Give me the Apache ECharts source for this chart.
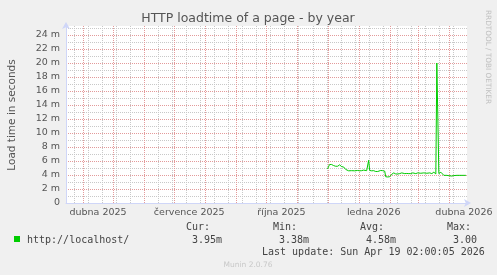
<!DOCTYPE html>
<html>
<head>
<meta charset="utf-8">
<script src="https://cdn.jsdelivr.net/npm/echarts@6/dist/echarts.min.js"></script>
<style>
html,body{margin:0;padding:0;background:#f0f0f0;}
#c{width:497px;height:275px;}
</style>
</head>
<body>
<div id="c"></div>
<script>
// ---- data (load time in milliseconds) ----
const dates = [
 '2025-12-01','2025-12-02','2025-12-03','2025-12-04','2025-12-05','2025-12-06','2025-12-07','2025-12-08',
 '2025-12-09','2025-12-10','2025-12-11','2025-12-12','2025-12-13','2025-12-14','2025-12-15','2025-12-16',
 '2025-12-17','2025-12-18','2025-12-19','2025-12-20','2025-12-22','2025-12-25','2025-12-28','2025-12-31',
 '2026-01-02','2026-01-04','2026-01-06','2026-01-07','2026-01-09','2026-01-10','2026-01-11','2026-01-12',
 '2026-01-14','2026-01-16','2026-01-18','2026-01-20','2026-01-21','2026-01-23','2026-01-25','2026-01-27',
 '2026-01-28','2026-01-30','2026-02-01','2026-02-02','2026-02-03','2026-02-04','2026-02-05','2026-02-06',
 '2026-02-07','2026-02-08','2026-02-09','2026-02-11','2026-02-13','2026-02-14','2026-02-16','2026-02-18',
 '2026-02-20','2026-02-22','2026-02-24','2026-02-25','2026-02-27','2026-03-01','2026-03-02','2026-03-04',
 '2026-03-05','2026-03-07','2026-03-08','2026-03-10','2026-03-11','2026-03-13','2026-03-15','2026-03-17',
 '2026-03-18','2026-03-19','2026-03-20','2026-03-21','2026-03-22','2026-03-23','2026-03-24','2026-03-25',
 '2026-03-27','2026-03-30','2026-04-01','2026-04-02','2026-04-04','2026-04-06','2026-04-09','2026-04-12',
 '2026-04-15','2026-04-16','2026-04-17','2026-04-18'
];
const loadMs = [
 4.86,5.2,5.5,5.55,5.5,5.45,5.35,5.3,
 5.25,5.3,5.25,5.4,5.45,5.35,5.2,5.1,
 5.15,5.0,4.8,4.62,4.6,4.62,4.6,4.65,
 4.6,4.62,4.7,4.6,4.62,4.7,6.1,4.65,
 4.6,4.62,4.5,4.5,4.6,4.65,4.62,4.55,
 3.75,3.72,3.75,3.8,4.1,4.1,4.3,4.1,
 4.15,4.3,4.15,4.2,4.3,4.2,4.2,4.22,
 4.2,4.2,4.3,4.15,4.2,4.3,4.15,4.25,
 4.1,4.3,4.1,4.25,4.1,4.3,4.2,4.4,
 4.2,4.15,20.0,20.0,4.2,4.25,4.4,4.2,
 3.95,3.95,3.9,3.85,3.85,3.92,3.95,3.95,
 3.95,4.2,3.95,3.95
];
const seriesName = 'http://localhost/';
const xStart = '2025-03-15T02:00';
const xEnd = '2026-04-19T02:00';
const xLabelDates = ['2025-04-16','2025-07-16','2025-10-16','2026-01-16','2026-04-16'];
const xLabelTexts = ['dubna 2025','července 2025','října 2025','ledna 2026','dubna 2026'];
const monthStarts = ['2025-04-01','2025-05-01','2025-06-01','2025-07-01','2025-08-01','2025-09-01','2025-10-01',
 '2025-11-01','2025-12-01','2026-01-01','2026-02-01','2026-03-01','2026-04-01'];
const weekLines = ['2025-03-23','2025-04-06','2025-04-20','2025-05-04','2025-05-18','2025-06-01','2025-06-15',
 '2025-06-29','2025-07-13','2025-07-27','2025-08-10','2025-08-24','2025-09-07','2025-09-21','2025-10-05',
 '2025-10-19','2025-11-02','2025-11-16','2025-11-30','2025-12-14','2025-12-28','2026-01-11','2026-01-25',
 '2026-02-08','2026-02-22','2026-03-08','2026-03-22','2026-04-05'];
const yLabelValues = [0,2,4,6,8,10,12,14,16,18,20,22,24];
const yMajorLines = [2,4,6,8,10,12,14,16,18,20,22,24];
const yMinorLines = [1,3,5,7,9,11,13,15,17,19,21,23,25];
const legendHeads = ['Cur:','Min:','Avg:','Max:'];
const legendValues = ['3.95m','3.38m','4.58m','3.00'];
const lastUpdate = 'Last update: Sun Apr 19 02:00:05 2026';

function t(s){
  const [d, hm] = s.split('T');
  const [y,m,dd] = d.split('-').map(Number);
  let h = 0, mi = 0;
  if (hm) { [h, mi] = hm.split(':').map(Number); }
  return Date.UTC(y, m-1, dd, h, mi);
}
const xMin = t(xStart), xMax = t(xEnd);
const labelTimes = xLabelDates.map(t);
const yMax = 25.29;

const gridCol = '#c8c8c8';
const mgridCol = '#e39a9a';
const axisCol = '#CFD6F8';
const fontCol = '#555';

function vGrid(color){
  return function(params, api){
    const v = api.value(0);
    const p0 = api.coord([v, 0]);
    const p1 = api.coord([v, yMax]);
    const x = Math.round(p0[0]) + 0.5;
    return {type:'line', silent:true,
      shape:{x1:x, y1:p0[1], x2:x, y2:p1[1]},
      style:{stroke:color, lineWidth:1, lineDash:[1,1], fill:null}};
  };
}

const chart = echarts.init(document.getElementById('c'), null, {renderer:'canvas'});
const baseY = {type:'value', min:0, max:yMax, gridIndex:0, position:'left',
  axisLine:{show:false}, axisLabel:{show:false}};

chart.setOption({
  animation:false,
  backgroundColor:'#f0f0f0',
  grid:{left:66, right:30, top:26, bottom:72, show:true, backgroundColor:'#ffffff', borderWidth:0},
  xAxis:[{
    type:'value', min:xMin, max:xMax, position:'bottom',
    axisLine:{show:true, onZero:false, lineStyle:{color:axisCol, width:1},
      symbol:['none','arrow'], symbolSize:[6,7], symbolOffset:[0,4]},
    axisTick:{show:false, customValues: labelTimes},
    splitLine:{show:false},
    axisLabel:{show:true, customValues: labelTimes, margin:5, color:fontCol,
      fontFamily:'DejaVu Sans', fontSize:9.5,
      formatter:function(v){ const i = labelTimes.indexOf(v); return i>=0 ? xLabelTexts[i] : ''; }}
  }],
  yAxis:[
    Object.assign({}, baseY, {
      axisTick:{show:false, customValues: yMinorLines},
      splitLine:{show:true, lineStyle:{color:gridCol, width:1, type:[1,1]}}
    }),
    Object.assign({}, baseY, {
      axisTick:{show:false, customValues: yMajorLines},
      splitLine:{show:true, lineStyle:{color:mgridCol, width:1, type:[1,1]}}
    }),
    Object.assign({}, baseY, {
      axisLine:{show:true, onZero:false, lineStyle:{color:axisCol, width:1},
        symbol:['none','arrow'], symbolSize:[6,7], symbolOffset:[0,4]},
      axisTick:{show:false, customValues: yLabelValues},
      splitLine:{show:false},
      axisLabel:{show:true, customValues: yLabelValues, margin:6, color:fontCol,
        fontFamily:'DejaVu Sans', fontSize:9.5,
        formatter:function(v){ return v===0 ? '0' : v + ' m'; }}
    })
  ],
  series:[
    {type:'custom', xAxisIndex:0, yAxisIndex:2, silent:true, z:1, clip:false,
      data: weekLines.map(d=>[t(d), 0]), renderItem: vGrid(gridCol)},
    {type:'custom', xAxisIndex:0, yAxisIndex:2, silent:true, z:1, clip:false,
      data: monthStarts.map(d=>[t(d), 0]), renderItem: vGrid(mgridCol)},
    {type:'line', name:seriesName, xAxisIndex:0, yAxisIndex:2, z:5,
      data: dates.map((d,i)=>[t(d), loadMs[i]]),
      showSymbol:false, symbol:'none',
      lineStyle:{color:'#00cc00', width:1}, itemStyle:{color:'#00cc00'}}
  ],
  graphic:[
    {type:'text', x:248, y:19, style:{text:'HTTP loadtime of a page - by year', fill:'#555',
      fontFamily:'DejaVu Sans', fontSize:12.5, textAlign:'center', textVerticalAlign:'middle'}},
    {type:'text', x:12, y:115, rotation:Math.PI/2, style:{text:'Load time in seconds', fill:'#555',
      fontFamily:'DejaVu Sans', fontSize:10.5, textAlign:'center', textVerticalAlign:'middle'}},
    {type:'text', x:488, y:57, rotation:-Math.PI/2, style:{text:'RRDTOOL / TOBI OETIKER', fill:'#c0c0c0',
      fontFamily:'DejaVu Sans', fontSize:7.3, textAlign:'center', textVerticalAlign:'middle'}},
    {type:'rect', shape:{x:14, y:236, width:6, height:6}, style:{fill:'#00cc00'}},
    {type:'text', x:27, y:240, style:{text:seriesName, fill:'#444',
      fontFamily:'DejaVu Sans Mono', fontSize:10, textAlign:'left', textVerticalAlign:'middle'}},
    {type:'text', x:186, y:227, style:{text:legendHeads[0], fill:'#444', fontFamily:'DejaVu Sans Mono', fontSize:10, textAlign:'left', textVerticalAlign:'middle'}},
    {type:'text', x:273, y:227, style:{text:legendHeads[1], fill:'#444', fontFamily:'DejaVu Sans Mono', fontSize:10, textAlign:'left', textVerticalAlign:'middle'}},
    {type:'text', x:360, y:227, style:{text:legendHeads[2], fill:'#444', fontFamily:'DejaVu Sans Mono', fontSize:10, textAlign:'left', textVerticalAlign:'middle'}},
    {type:'text', x:447, y:227, style:{text:legendHeads[3], fill:'#444', fontFamily:'DejaVu Sans Mono', fontSize:10, textAlign:'left', textVerticalAlign:'middle'}},
    {type:'text', x:192, y:240, style:{text:legendValues[0], fill:'#444', fontFamily:'DejaVu Sans Mono', fontSize:10, textAlign:'left', textVerticalAlign:'middle'}},
    {type:'text', x:279, y:240, style:{text:legendValues[1], fill:'#444', fontFamily:'DejaVu Sans Mono', fontSize:10, textAlign:'left', textVerticalAlign:'middle'}},
    {type:'text', x:366, y:240, style:{text:legendValues[2], fill:'#444', fontFamily:'DejaVu Sans Mono', fontSize:10, textAlign:'left', textVerticalAlign:'middle'}},
    {type:'text', x:453, y:240, style:{text:legendValues[3], fill:'#444', fontFamily:'DejaVu Sans Mono', fontSize:10, textAlign:'left', textVerticalAlign:'middle'}},
    {type:'text', x:262, y:252, style:{text:lastUpdate, fill:'#444', fontFamily:'DejaVu Sans Mono', fontSize:10, textAlign:'left', textVerticalAlign:'middle'}},
    {type:'text', x:248, y:265, style:{text:'Munin 2.0.76', fill:'#c8c8c8', fontFamily:'DejaVu Sans', fontSize:7.5, textAlign:'center', textVerticalAlign:'middle'}}
  ]
});
</script>
</body>
</html>
